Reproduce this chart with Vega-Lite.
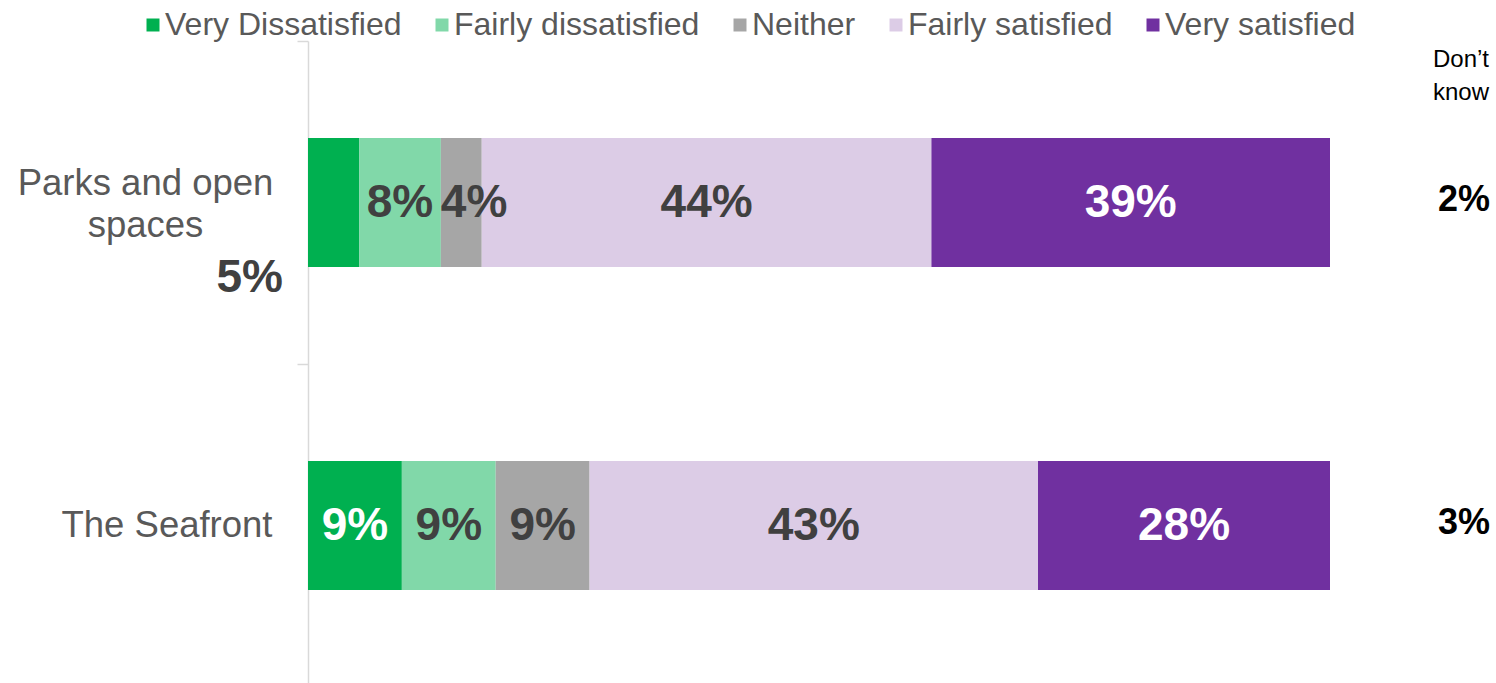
{
  "$schema": "https://vega.github.io/schema/vega-lite/v6.json",
  "width": 1022,
  "height": 646,
  "autosize": {"type": "none"},
  "padding": {"left": 308, "top": 41, "right": 166, "bottom": 0},
  "config": {"font": "Liberation Sans", "view": {"stroke": null}},
  "datasets": {
    "ratings": [
      {"category": "Parks and open spaces", "response": "Very Dissatisfied", "order": 1, "value": 0.05},
      {"category": "Parks and open spaces", "response": "Fairly dissatisfied", "order": 2, "value": 0.08},
      {"category": "Parks and open spaces", "response": "Neither", "order": 3, "value": 0.04},
      {"category": "Parks and open spaces", "response": "Fairly satisfied", "order": 4, "value": 0.44},
      {"category": "Parks and open spaces", "response": "Very satisfied", "order": 5, "value": 0.39},
      {"category": "The Seafront", "response": "Very Dissatisfied", "order": 1, "value": 0.09},
      {"category": "The Seafront", "response": "Fairly dissatisfied", "order": 2, "value": 0.09},
      {"category": "The Seafront", "response": "Neither", "order": 3, "value": 0.09},
      {"category": "The Seafront", "response": "Fairly satisfied", "order": 4, "value": 0.43},
      {"category": "The Seafront", "response": "Very satisfied", "order": 5, "value": 0.28}
    ],
    "dontknow": [
      {"category": "Parks and open spaces", "dk": 0.02},
      {"category": "The Seafront", "dk": 0.03}
    ],
    "header": [
      {"category": "Parks and open spaces", "text": "Don’t\nknow"}
    ]
  },
  "layer": [
    {
      "data": {"name": "ratings"},
      "transform": [
        {"stack": "value", "groupby": ["category"], "sort": [{"field": "order"}], "offset": "normalize", "as": ["x0", "x1"]}
      ],
      "mark": {"type": "bar"},
      "encoding": {
        "y": {
          "field": "category", "type": "nominal",
          "sort": ["Parks and open spaces", "The Seafront"],
          "scale": {"paddingInner": 0.6, "paddingOuter": 0.3},
          "axis": {
            "title": null,
            "labelFontSize": 36.5,
            "labelColor": "#595959",
            "labelAlign": "center",
            "labelBaseline": "middle",
            "labelPadding": {"condition": {"test": "datum.value == 'The Seafront'", "value": 130.5}, "value": 152},
            "labelOffset": {"condition": {"test": "datum.value == 'The Seafront'", "value": 161.5}, "value": 142.5},
            "labelLineHeight": 42,
            "labelLimit": 0,
            "labelOverlap": false,
            "labelBound": false,
            "labelExpr": "datum.value == 'Parks and open spaces' ? ['Parks and open', 'spaces'] : datum.value",
            "domainColor": "#D9D9D9",
            "domainWidth": 1.5,
            "tickColor": "#D9D9D9",
            "tickWidth": 1.5,
            "tickSize": 11,
            "tickOffset": -161.5
          }
        },
        "x": {"field": "x0", "type": "quantitative", "scale": {"domain": [0, 1], "nice": false}, "axis": null},
        "x2": {"field": "x1"},
        "color": {
          "field": "response", "type": "nominal",
          "scale": {
            "domain": ["Very Dissatisfied", "Fairly dissatisfied", "Neither", "Fairly satisfied", "Very satisfied"],
            "range": ["#00B050", "#81D8A9", "#A6A6A6", "#DCCCE6", "#7030A0"]
          },
          "legend": {
            "orient": "none",
            "legendX": -171,
            "legendY": -32,
            "direction": "horizontal",
            "title": null,
            "symbolType": "square",
            "symbolSize": 169,
            "symbolStrokeWidth": 0,
            "symbolOpacity": 1,
            "labelFontSize": 32,
            "labelColor": "#595959",
            "labelOffset": -4,
            "columnPadding": 24,
            "labelLimit": 0,
            "padding": 0
          }
        }
      }
    },
    {
      "data": {"name": "ratings"},
      "transform": [
        {"stack": "value", "groupby": ["category"], "sort": [{"field": "order"}], "offset": "normalize", "as": ["x0", "x1"]},
        {"calculate": "(datum.x0 + datum.x1) / 2", "as": "mid"},
        {"filter": "datum.category != 'Parks and open spaces' || (datum.response != 'Very Dissatisfied' && datum.response != 'Neither')"}
      ],
      "mark": {"type": "text", "fontSize": 46, "fontWeight": "bold", "align": "center", "baseline": "middle"},
      "encoding": {
        "y": {"field": "category", "type": "nominal", "sort": ["Parks and open spaces", "The Seafront"]},
        "x": {"field": "mid", "type": "quantitative"},
        "text": {"field": "value", "type": "quantitative", "format": ".0%"},
        "color": {
          "condition": {"test": "datum.response == 'Very satisfied' || (datum.response == 'Very Dissatisfied' && datum.category == 'The Seafront')", "value": "#FFFFFF"},
          "value": "#404040"
        }
      }
    },
    {
      "data": {"name": "ratings"},
      "transform": [
        {"stack": "value", "groupby": ["category"], "sort": [{"field": "order"}], "offset": "normalize", "as": ["x0", "x1"]},
        {"filter": "datum.category == 'Parks and open spaces' && datum.response == 'Neither'"}
      ],
      "mark": {"type": "text", "fontSize": 46, "fontWeight": "bold", "align": "left", "baseline": "middle", "dx": 0, "color": "#404040"},
      "encoding": {
        "y": {"field": "category", "type": "nominal", "sort": ["Parks and open spaces", "The Seafront"]},
        "x": {"field": "x0", "type": "quantitative"},
        "text": {"field": "value", "type": "quantitative", "format": ".0%"}
      }
    },
    {
      "data": {"name": "ratings"},
      "transform": [
        {"filter": "datum.category == 'Parks and open spaces' && datum.response == 'Very Dissatisfied'"}
      ],
      "mark": {"type": "text", "fontSize": 46, "fontWeight": "bold", "align": "right", "baseline": "middle", "dx": -25, "dy": 75, "color": "#404040"},
      "encoding": {
        "y": {"field": "category", "type": "nominal", "sort": ["Parks and open spaces", "The Seafront"]},
        "x": {"datum": 0, "type": "quantitative"},
        "text": {"field": "value", "type": "quantitative", "format": ".0%"}
      }
    },
    {
      "data": {"name": "dontknow"},
      "mark": {"type": "text", "fontSize": 36, "fontWeight": "bold", "align": "right", "baseline": "middle", "dx": 160, "dy": -3, "color": "#000000"},
      "encoding": {
        "y": {"field": "category", "type": "nominal", "sort": ["Parks and open spaces", "The Seafront"]},
        "x": {"datum": 1, "type": "quantitative"},
        "text": {"field": "dk", "type": "quantitative", "format": ".0%"}
      }
    },
    {
      "data": {"name": "header"},
      "mark": {"type": "text", "fontSize": 24, "align": "right", "baseline": "middle", "lineBreak": "\n", "lineHeight": 33, "dx": 159, "dy": -143, "color": "#000000"},
      "encoding": {
        "y": {"field": "category", "type": "nominal", "sort": ["Parks and open spaces", "The Seafront"]},
        "x": {"datum": 1, "type": "quantitative"},
        "text": {"field": "text", "type": "nominal"}
      }
    }
  ]
}
